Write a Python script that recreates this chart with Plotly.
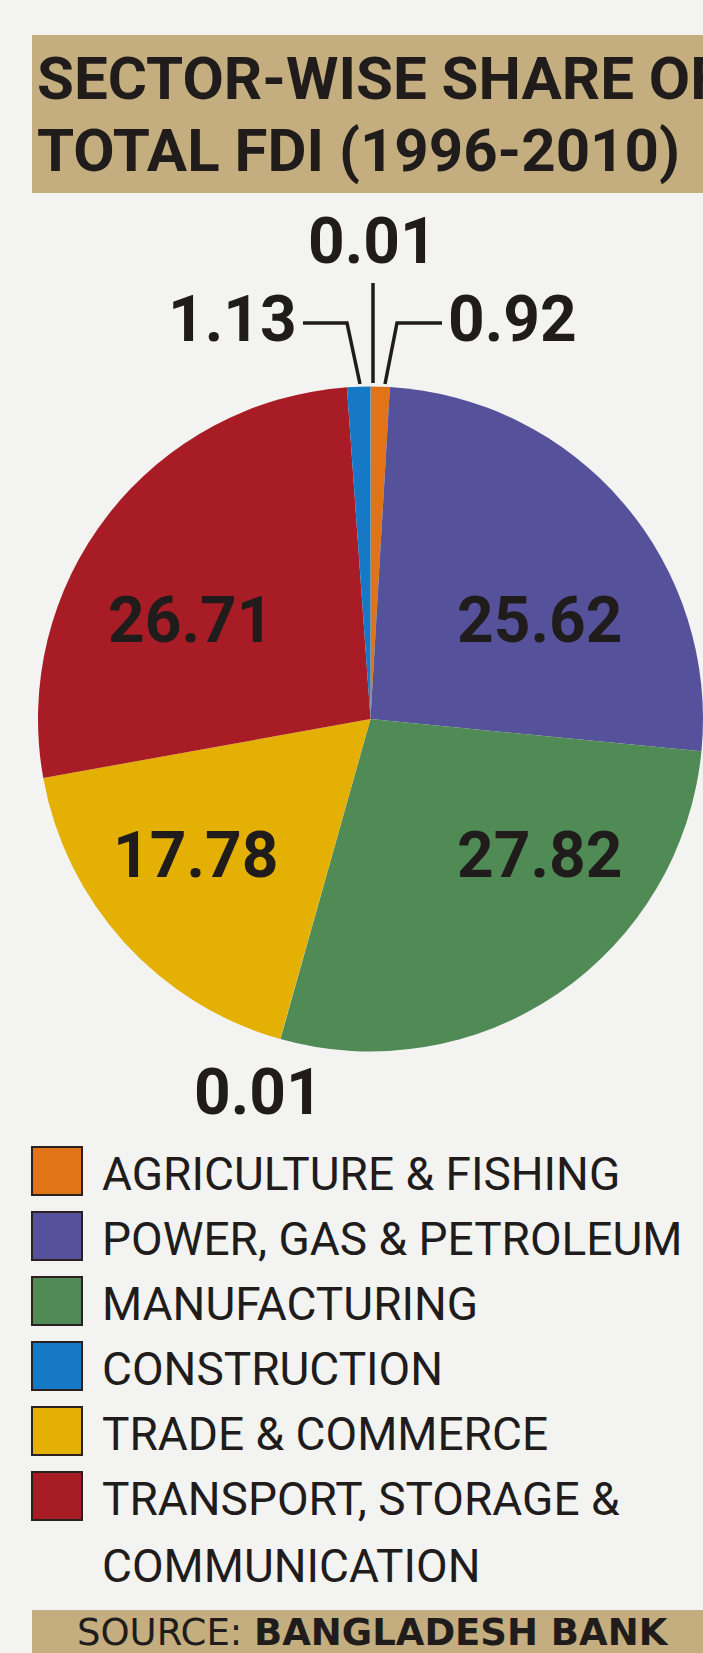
import plotly.graph_objects as go

W, H = 703, 1653

# ---- data ----
pie_labels = ["OTHER (A)", "AGRICULTURE & FISHING", "POWER, GAS & PETROLEUM",
              "MANUFACTURING", "OTHER (B)", "TRADE & COMMERCE",
              "TRANSPORT, STORAGE & COMMUNICATION", "CONSTRUCTION"]
pie_values = [0.01, 0.92, 25.62, 27.82, 0.01, 17.78, 26.71, 1.13]
pie_colors = ["#d8d8d8", "#e07416", "#56519b", "#508a55", "#d8d8d8",
              "#e3b003", "#a81c25", "#1679c6"]

legend_labels = ["AGRICULTURE & FISHING", "POWER, GAS & PETROLEUM", "MANUFACTURING",
                 "CONSTRUCTION", "TRADE & COMMERCE", "TRANSPORT, STORAGE &<br>COMMUNICATION"]
legend_colors = ["#e07416", "#56519b", "#508a55", "#1679c6", "#e3b003", "#a81c25"]

title_lines = ["SECTOR-WISE SHARE OF", "TOTAL FDI (1996-2010)"]
source_regular = "SOURCE: "
source_bold = "BANGLADESH BANK"

FONT = "Roboto, Liberation Sans, sans-serif"
INK = "#201c1c"
TAN = "#c4ad7e"


def px(x):
    return x / W


def py(y):
    return 1 - y / H


cx, cy, r = 370.5, 719, 332.5

fig = go.Figure()
fig.add_trace(go.Pie(
    labels=pie_labels, values=pie_values, sort=False, direction="clockwise",
    rotation=0, marker=dict(colors=pie_colors, line=dict(width=0)),
    textinfo="none",
    domain=dict(x=[px(cx - r), 1], y=[py(cy + r), py(cy - r)]),
    showlegend=False, hoverinfo="skip",
))

shapes = []
annotations = []

# title box
shapes.append(dict(type="rect", xref="paper", yref="paper", x0=px(32), x1=px(703),
                   y0=py(193), y1=py(35), fillcolor=TAN, line=dict(width=0), layer="below"))
for i, t in enumerate(title_lines):
    annotations.append(dict(text=t, x=px(35), y=py(78 + 72 * i), xref="paper", yref="paper",
                            xanchor="left", yanchor="middle", showarrow=False,
                            font=dict(family=FONT, size=60, color=INK, weight="bold")))

fmt = lambda v: f"{v:.2f}"
LABEL_FONT = dict(family=FONT, size=64, color=INK, weight="bold")

# value labels inside the big slices (index into pie arrays, centre position)
inside = [(6, 190, 620), (2, 539, 620), (5, 195, 856), (3, 539, 856)]
for idx, x, y in inside:
    annotations.append(dict(text=fmt(pie_values[idx]), x=px(x), y=py(y), xref="paper",
                            yref="paper", xanchor="center", yanchor="middle",
                            showarrow=False, font=LABEL_FONT))

# small slice labels outside
small = [
    (0, 372, 242, "center"),
    (7, 299, 320, "right"),
    (1, 446, 320, "left"),
    (4, 258, 1092, "center"),
]
for idx, x, y, anc in small:
    annotations.append(dict(text=fmt(pie_values[idx]), x=px(x), y=py(y), xref="paper",
                            yref="paper", xanchor=anc, yanchor="middle", showarrow=False,
                            font=LABEL_FONT))

# leader lines
leaders = [
    [(373, 283), (373, 383)],
    [(303, 323), (347, 323), (360, 384)],
    [(442, 323), (397, 323), (385, 384)],
]
for pts in leaders:
    path = "M " + " L ".join(f"{px(x)},{py(y)}" for x, y in pts)
    shapes.append(dict(type="path", xref="paper", yref="paper", path=path,
                       line=dict(color=INK, width=3.5)))

# legend
for i, (lab, col) in enumerate(zip(legend_labels, legend_colors)):
    top = 1147 + 65 * i
    shapes.append(dict(type="rect", xref="paper", yref="paper", x0=px(32), x1=px(82),
                       y0=py(top + 48), y1=py(top), fillcolor=col,
                       line=dict(color="#2a2020", width=2)))
    for j, line in enumerate(lab.split("<br>")):
        annotations.append(dict(text=line, x=px(100), y=py(top + 27 + 67 * j),
                                xref="paper", yref="paper", xanchor="left",
                                yanchor="middle", showarrow=False,
                                font=dict(family=FONT, size=46, color=INK)))

# source bar
shapes.append(dict(type="rect", xref="paper", yref="paper", x0=px(32), x1=px(703),
                   y0=0, y1=py(1610), fillcolor=TAN, line=dict(width=0), layer="below"))
annotations.append(dict(text=f"{source_regular}<b>{source_bold}</b>", x=px(75), y=py(1632),
                        xref="paper", yref="paper", xanchor="left", yanchor="middle",
                        showarrow=False,
                        font=dict(family="DejaVu Sans, sans-serif", size=37, color=INK)))

fig.update_layout(
    width=W, height=H, margin=dict(l=0, r=0, t=0, b=0),
    paper_bgcolor="#f3f3f2", plot_bgcolor="#f3f3f2",
    shapes=shapes, annotations=annotations,
)

fig.write_html("out.html", config={"displayModeBar": False})
